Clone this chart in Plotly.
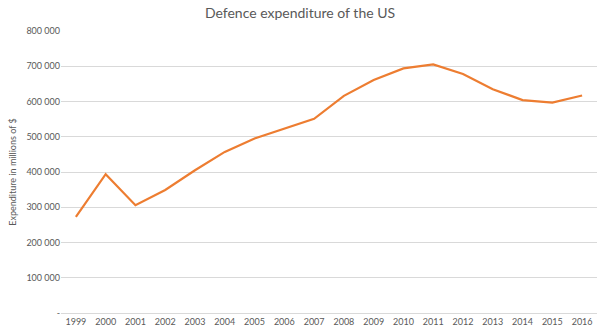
import plotly.graph_objects as go

years = [str(y) for y in range(1999, 2017)]
spending = [273000, 394000, 306000, 349000, 405000, 457000, 495000, 522000, 551000,
            616000, 661000, 694000, 705000, 678000, 635000, 604000, 597000, 617000]
y_tick_values = [0, 100000, 200000, 300000, 400000, 500000, 600000, 700000, 800000]
y_tick_labels = ["-", "100 000", "200 000", "300 000", "400 000", "500 000",
                 "600 000", "700 000", "800 000"]

fig = go.Figure()
fig.add_trace(go.Scatter(x=years, y=spending, mode="lines",
                         line=dict(color="#ED7D31", width=2.2), hoverinfo="x+y"))

font_family = "Lato, Open Sans, sans-serif"
fig.update_layout(
    width=600, height=333,
    margin=dict(l=61, r=3, t=31, b=20),
    paper_bgcolor="white", plot_bgcolor="white",
    showlegend=False,
    title=dict(text="Defence expenditure of the US", x=0.5, xanchor="center",
               y=0.96, yanchor="middle",
               font=dict(family=font_family, size=14, color="#595959")),
    font=dict(family=font_family, size=9, color="#595959"),
)
fig.update_xaxes(type="category", range=[-0.5, 17.5], showgrid=False,
                 showline=True, linecolor="#D9D9D9", linewidth=1,
                 ticks="", tickfont=dict(size=9, color="#595959"))
fig.update_yaxes(range=[0, 800000], tickvals=y_tick_values, ticktext=y_tick_labels,
                 showgrid=True, gridcolor="#D9D9D9", gridwidth=1,
                 zeroline=False, showline=False, ticks="",
                 tickfont=dict(size=9, color="#595959"),
                 title=dict(text="Expenditure in millions of $", standoff=8,
                            font=dict(size=9, color="#595959")))

fig.write_html("out.html")
